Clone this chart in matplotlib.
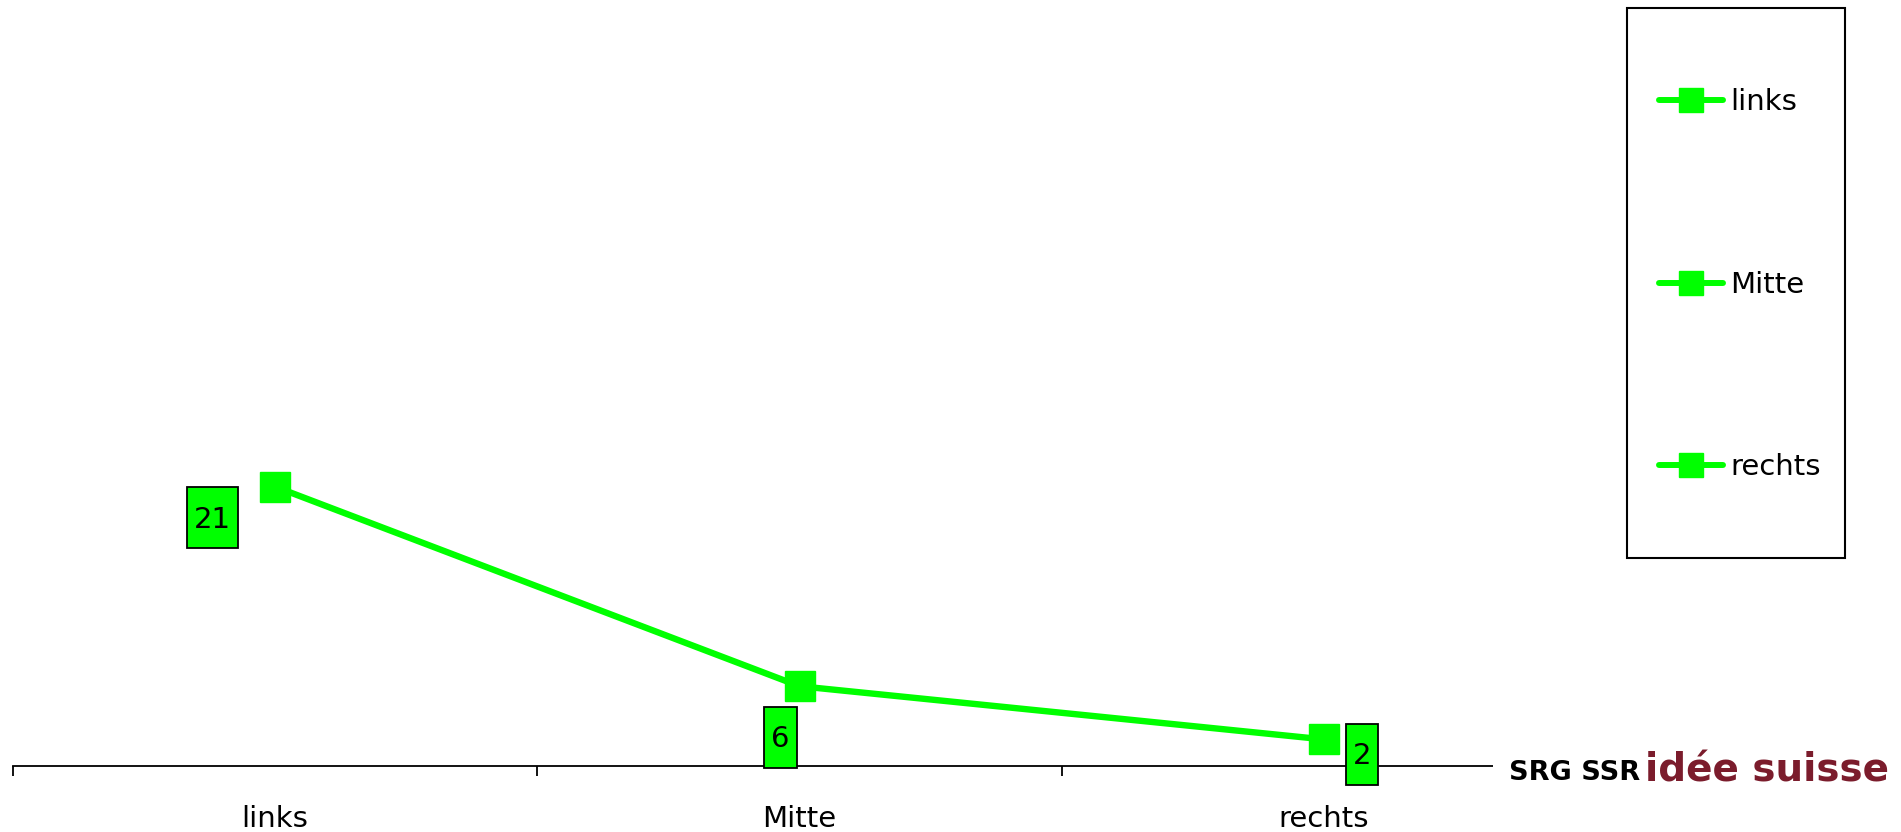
import matplotlib
matplotlib.use("Agg")
import matplotlib.pyplot as plt
from matplotlib.lines import Line2D
from matplotlib.patches import Rectangle
from matplotlib.path import Path

categories = ["links", "Mitte", "rechts"]
values = [21, 6, 2]
legend_labels = ["links", "Mitte", "rechts"]

GREEN = "#00FF00"
FS = 21

plt.rcParams["font.family"] = ["DejaVu Sans"]

fig = plt.figure(figsize=(19.01, 8.32), dpi=100)
W, H = 1901, 832
ax_left, ax_right = 13, 1586
ax_bottom_px = 766
ax = fig.add_axes([ax_left / W, (H - ax_bottom_px) / H, (ax_right - ax_left) / W, ax_bottom_px / H])

x = list(range(len(categories)))
ax.plot(x, values, color=GREEN, lw=4.6, marker="s", ms=21, mec=GREEN, mfc=GREEN, zorder=3,
        solid_capstyle="round")
ax.set_xlim(-0.5, len(categories) - 0.5)
ax.set_ylim(0, 766 / 13.3)

for s in ["top", "right", "left"]:
    ax.spines[s].set_visible(False)
ax.spines["bottom"].set_linewidth(1.3)
ax.set_yticks([])
ax.set_xticks([i - 0.5 for i in range(len(categories) + 1)])
ax.set_xticklabels([])
ax.tick_params(axis="x", which="major", direction="out", length=7, width=1.3)
ax.set_xticks(x, minor=True)
ax.set_xticklabels(categories, minor=True, fontsize=FS)
ax.tick_params(axis="x", which="minor", length=0, pad=28)


def tallbox(x0, y0, width, height, mutation_size):
    cx = x0 + width / 2
    cy = y0 + height / 2 + 2
    hw = width / 2 + 7
    hh = 30.5
    verts = [(cx - hw, cy - hh), (cx + hw, cy - hh), (cx + hw, cy + hh), (cx - hw, cy + hh), (cx - hw, cy - hh)]
    return Path(verts, closed=True)


label_offsets = [(-63, -33), (-19, -53), (38, -17)]
for xi, v, off in zip(x, values, label_offsets):
    ax.annotate(f"{v:.0f}", (xi, v), xytext=off, textcoords="offset pixels",
                ha="center", va="center", fontsize=FS, zorder=4,
                bbox=dict(boxstyle=tallbox, fc=GREEN, ec="black", lw=1.3))

# legend frame
fig.patches.append(Rectangle((1627 / W, 1 - 558 / H), 218 / W, 550 / H, transform=fig.transFigure,
                             fill=False, ec="black", lw=1.5, zorder=5))
handles = [Line2D([], [], color=GREEN, lw=4.3, marker="s", ms=17, mfc=GREEN, mec=GREEN,
                  solid_capstyle="round") for _ in legend_labels]
leg = fig.legend(handles, legend_labels, loc="upper left",
                 bbox_to_anchor=(1659 / W, 1 - 88.5 / H), bbox_transform=fig.transFigure,
                 borderaxespad=0, borderpad=0, fontsize=FS, frameon=False,
                 labelspacing=5.29, handlelength=2.2, handletextpad=0.25)

# logo
fig.patches.append(Rectangle((1493 / W, 1 - 790 / H), 408 / W, 42 / H, transform=fig.transFigure,
                             fc="white", ec="none", zorder=5))
fig.text(1509 / W, 1 - 773 / H, "SRG SSR", fontsize=19.5, fontweight="bold", color="black",
         ha="left", va="center", zorder=6)
fig.text(1645 / W, 1 - 771 / H, "idée suisse", fontsize=28, fontweight="bold", color="#7b1c2c",
         ha="left", va="center", zorder=6)

fig.savefig("out.png", dpi=100)
